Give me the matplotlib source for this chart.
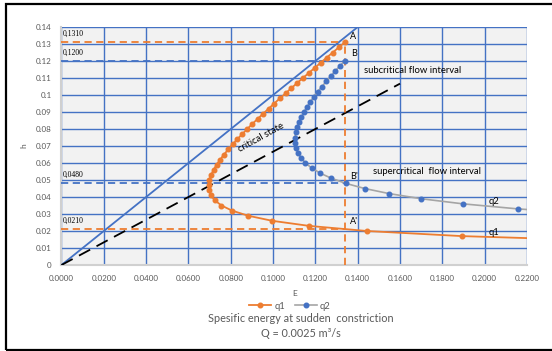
import matplotlib
matplotlib.use("Agg")
import matplotlib.pyplot as plt
from matplotlib.patches import Rectangle

# === Data ===
# q1 series (orange): depth h and specific energy E
q1_h = [0.014, 0.017, 0.020, 0.023, 0.026, 0.029, 0.032, 0.035, 0.038, 0.041,
        0.044, 0.047, 0.050, 0.053, 0.056, 0.059, 0.062, 0.065, 0.068, 0.071,
        0.074, 0.077, 0.080, 0.083, 0.086, 0.089, 0.092, 0.095, 0.098, 0.101,
        0.104, 0.107, 0.110, 0.113, 0.116, 0.119, 0.122, 0.125, 0.128, 0.131]
q1_E = [0.2679, 0.1892, 0.1444, 0.1171, 0.0996, 0.0882, 0.0806, 0.0756, 0.0725, 0.0706,
        0.0697, 0.0695, 0.0699, 0.0707, 0.0719, 0.0733, 0.0750, 0.0768, 0.0788, 0.0809,
        0.0831, 0.0854, 0.0878, 0.0902, 0.0927, 0.0953, 0.0979, 0.1005, 0.1032, 0.1059,
        0.1086, 0.1113, 0.1141, 0.1169, 0.1197, 0.1225, 0.1253, 0.1282, 0.1310, 0.1339]

# q2 series (blue markers, grey line)
q2_h = [0.030, 0.033, 0.036, 0.039, 0.042, 0.045, 0.048, 0.051, 0.054, 0.057,
        0.060, 0.063, 0.066, 0.069, 0.072, 0.075, 0.078, 0.081, 0.084, 0.087,
        0.090, 0.093, 0.096, 0.099, 0.102, 0.105, 0.108, 0.111, 0.114, 0.117, 0.120]
q2_E = [0.2512, 0.2158, 0.1896, 0.1699, 0.1549, 0.1433, 0.1344, 0.1276, 0.1223, 0.1183,
        0.1153, 0.1132, 0.1117, 0.1108, 0.1104, 0.1104, 0.1107, 0.1113, 0.1122, 0.1133,
        0.1146, 0.1160, 0.1176, 0.1193, 0.1211, 0.1231, 0.1251, 0.1272, 0.1293, 0.1315, 0.1338]

# reference lines
line45_E = [0.0, 0.14]
line45_h = [0.0, 0.14]
crit_E = [0.0, 0.16]
crit_h = [0.0, 0.1067]

# marked depths and the constriction energy
h_A, h_B, h_Bp, h_Ap = 0.1310, 0.1200, 0.0480, 0.0210
E_c = 0.1340

x_ticks = [0.0, 0.02, 0.04, 0.06, 0.08, 0.10, 0.12, 0.14, 0.16, 0.18, 0.20, 0.22]
y_ticks = [0.0, 0.01, 0.02, 0.03, 0.04, 0.05, 0.06, 0.07, 0.08, 0.09, 0.10, 0.11, 0.12, 0.13, 0.14]

ORANGE = '#ED7D31'
BLUE = '#4472C4'
GREY = '#A5A5A5'
TXT = '#595959'

plt.rcParams['font.family'] = ['Lato', 'DejaVu Sans']

fig = plt.figure(figsize=(5.52, 3.51), dpi=100)
ax = fig.add_axes([0.1114, 0.245, 0.8433, 0.678])
ax.set_facecolor('#F2F2F2')

# === Curves ===
ax.plot(line45_E, line45_h, color=BLUE, lw=1.3, zorder=3)
ax.plot(crit_E, crit_h, color='black', lw=1.3, dashes=(7, 4), zorder=3)

ax.plot(q2_E, q2_h, color=GREY, lw=1.2, marker='o', ms=3.3, mfc=BLUE, mec=BLUE,
        label='q2', zorder=4)
ax.plot(q1_E, q1_h, color=ORANGE, lw=1.3, marker='o', ms=3.3, mfc=ORANGE, mec=ORANGE,
        label='q1', zorder=5)

# === Dashed guide lines ===
ax.plot([0, E_c], [h_A, h_A], color=ORANGE, lw=1.3, dashes=(4, 2.5), zorder=3)
ax.plot([0, E_c], [h_B, h_B], color=BLUE, lw=1.3, dashes=(4, 2.5), zorder=3)
ax.plot([0, E_c], [h_Bp, h_Bp], color=BLUE, lw=1.3, dashes=(4, 2.5), zorder=3)
ax.plot([0, E_c], [h_Ap, h_Ap], color=ORANGE, lw=1.3, dashes=(4, 2.5), zorder=3)
ax.plot([E_c, E_c], [0, h_A], color=ORANGE, lw=1.3, dashes=(4, 2.5), zorder=3)

# === Value labels (serif, comma decimals) ===
for hv in [h_A, h_B, h_Bp, h_Ap]:
    ax.text(0.0005, hv + 0.0025, f"{hv:.4f}".replace('.', ','), fontsize=5.5,
            family='Liberation Serif', color='black', va='bottom', ha='left', zorder=6)

# === Point / region labels ===
ax.text(0.1363, 0.1345, 'A', fontsize=6.5, color='black', va='center', zorder=6)
ax.text(0.1368, 0.1245, 'B', fontsize=6.5, color='black', va='center', zorder=6)
ax.text(0.1362, 0.0518, "B'", fontsize=6.5, color='black', va='center', zorder=6)
ax.text(0.1362, 0.0258, "A'", fontsize=6.5, color='black', va='center', zorder=6)
ax.text(0.1432, 0.1147, 'subcritical flow interval', fontsize=6.8, color='black',
        va='center', zorder=6)
ax.text(0.1470, 0.0549, 'supercritical  flow interval', fontsize=6.8, color='black',
        va='center', zorder=6)
ax.text(0.2020, 0.0376, 'q2', fontsize=6.8, color='black', va='center', zorder=6)
ax.text(0.2020, 0.0194, 'q1', fontsize=6.8, color='black', va='center', zorder=6)
ax.text(0.0945, 0.0752, 'critical state', fontsize=6.8, color='black', rotation=29,
        ha='center', va='center', rotation_mode='anchor', zorder=6)

# === Axes styling ===
ax.set_xlim(0, 0.22)
ax.set_ylim(0, 0.14)
ax.set_xticks(x_ticks)
ax.set_yticks(y_ticks)
ax.set_xticklabels([f"{v:.4f}" for v in x_ticks])
ax.set_yticklabels(['0' if v == 0 else f"{v:g}" for v in y_ticks])
ax.tick_params(length=0, labelsize=5.8, colors=TXT, pad=7)
ax.grid(True, color=BLUE, lw=1.0, zorder=1)
ax.set_axisbelow(True)
for s in ['top', 'right']:
    ax.spines[s].set_visible(False)
for s in ['left', 'bottom']:
    ax.spines[s].set_color('#D0D0D0')
    ax.spines[s].set_linewidth(1.5)

ax.set_xlabel('E', fontsize=6, color=TXT, labelpad=6)
ax.set_ylabel('h', fontsize=6, color=TXT, labelpad=6)

# legend below the axes
handles, labels = ax.get_legend_handles_labels()
leg = fig.legend(handles[::-1], labels[::-1], loc='center', bbox_to_anchor=(0.525, 0.128),
                 ncol=2, frameon=False, fontsize=6.8, handlelength=2.4, columnspacing=1.0,
                 handletextpad=0.3)
for t in leg.get_texts():
    t.set_color(TXT)

fig.text(0.545, 0.094, 'Spesific energy at sudden  constriction', fontsize=7.8, color=TXT,
         ha='center', va='center')
fig.text(0.545, 0.051, 'Q = 0.0025 m³/s', fontsize=7.8, color=TXT, ha='center', va='center')

# outer frame
fig.patches.append(Rectangle((0.011, 0.003), 1.2, 0.985, transform=fig.transFigure,
                             fill=False, edgecolor='black', lw=1.6))

fig.savefig('out.png', dpi=100)
